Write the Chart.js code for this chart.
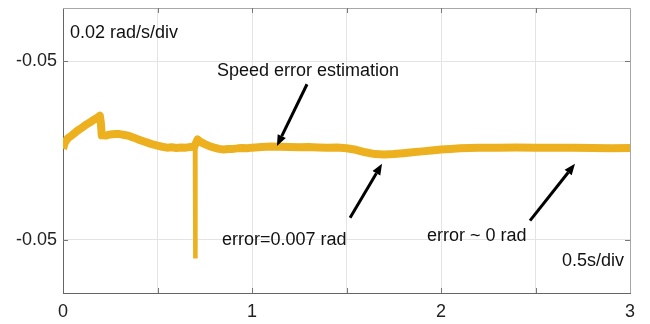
<!DOCTYPE html>
<html>
<head>
<meta charset="utf-8">
<script src="https://cdn.jsdelivr.net/npm/chart.js@4.4.1/dist/chart.umd.min.js"></script>
<style>
  html, body { margin: 0; padding: 0; background: #fff; }
  #wrap { width: 650px; height: 324px; }
</style>
</head>
<body>
<div id="wrap"><canvas id="speedChart"></canvas></div>
<script>
// ---------------------------
// Data (time in s, speed error in rad/s)
// ---------------------------
const timeSec = [
  0.000, 0.010, 0.025, 0.050, 0.075, 0.100, 0.125, 0.150, 0.175, 0.195,
  0.200, 0.205, 0.225, 0.250, 0.275, 0.300, 0.325, 0.350, 0.375, 0.400,
  0.425, 0.450, 0.475, 0.500, 0.525, 0.550, 0.575, 0.600, 0.625, 0.650,
  0.675, 0.695, 0.712, 0.725, 0.750, 0.775, 0.800, 0.825, 0.850, 0.875,
  0.900, 0.925, 0.950, 0.975, 1.000, 1.050, 1.100, 1.150, 1.200, 1.250,
  1.300, 1.350, 1.400, 1.450, 1.500, 1.550, 1.600, 1.650, 1.700, 1.750,
  1.800, 1.850, 1.900, 1.950, 2.000, 2.050, 2.100, 2.150, 2.200, 2.300,
  2.400, 2.500, 2.600, 2.700, 2.800, 2.900, 3.000
];
const speedError = [
  0.0010, 0.0045, 0.0068, 0.0088, 0.0110, 0.0128, 0.0147, 0.0163, 0.0180, 0.0195,
  0.0160, 0.0085, 0.0084, 0.0090, 0.0092, 0.0092, 0.0087, 0.0082, 0.0072, 0.0061,
  0.0052, 0.0043, 0.0034, 0.0027, 0.0021, 0.0016, 0.0018, 0.0014, 0.0017, 0.0016,
  0.0020, 0.0022, 0.0062, 0.0050, 0.0036, 0.0024, 0.0016, 0.0009, 0.0006, 0.0008,
  0.0009, 0.0012, 0.0014, 0.0013, 0.0016, 0.0019, 0.0022, 0.0021, 0.0020, 0.0018,
  0.0019, 0.0017, 0.0016, 0.0017, 0.0013, 0.0004, -0.0010, -0.0020, -0.0023, -0.0020,
  -0.0015, -0.0010, -0.0005, 0.0000, 0.0006, 0.0009, 0.0012, 0.0014, 0.0015, 0.0016,
  0.0017, 0.0016, 0.0015, 0.0015, 0.0014, 0.0013, 0.0014
];
// load step transient around t = 0.7 s
const spikeTime = [0.693, 0.697, 0.699, 0.702, 0.712];
const spikeError = [0.0022, 0.0010, -0.0595, 0.0020, 0.0062];

const xTickLabels = ["0", "1", "2", "3"];
const yTickValues = [-0.05, 0.05];
const yTickLabels = ["-0.05", "-0.05"];

// annotations, positioned in data units
const notes = [
  { text: "0.02 rad/s/div", t: 0.037, v: 0.0662, align: "left" },
  { text: "Speed error estimation", t: 0.815, v: 0.0444, align: "left" },
  { text: "error=0.007 rad", t: 0.841, v: -0.0500, align: "left" },
  { text: "error ~ 0 rad", t: 1.926, v: -0.0478, align: "left" },
  { text: "0.5s/div", t: 2.968, v: -0.0623, align: "right" }
];
const arrows = [
  { t0: 1.291, v0: 0.0372, t1: 1.132, v1: 0.0025 },
  { t0: 1.519, v0: -0.0377, t1: 1.688, v1: -0.0075 },
  { t0: 2.471, v0: -0.0394, t1: 2.709, v1: -0.0075 }
];

const TRACE = "#EDB120";
const FONT = "'Liberation Sans', Arial, sans-serif";

// ---------------------------
// Frame, inward ticks, arrows, labels
// ---------------------------
const overlay = {
  id: "overlay",
  afterDraw(chart) {
    const { ctx, chartArea: a, scales: { x, y } } = chart;
    ctx.save();

    // top / right frame
    ctx.strokeStyle = "#a8a8a8";
    ctx.lineWidth = 1;
    ctx.beginPath();
    ctx.moveTo(a.left, a.top + 0.5);
    ctx.lineTo(a.right + 0.5, a.top + 0.5);
    ctx.lineTo(a.right + 0.5, a.bottom);
    ctx.stroke();

    // inward tick marks
    ctx.strokeStyle = "#777";
    ctx.beginPath();
    for (let t = 0.5; t < 3; t += 0.5) {
      const px = Math.round(x.getPixelForValue(t)) + 0.5;
      ctx.moveTo(px, a.bottom); ctx.lineTo(px, a.bottom - 5);
      ctx.moveTo(px, a.top); ctx.lineTo(px, a.top + 5);
    }
    yTickValues.forEach(v => {
      const py = Math.round(y.getPixelForValue(v)) + 0.5;
      ctx.moveTo(a.left, py); ctx.lineTo(a.left + 5, py);
      ctx.moveTo(a.right, py); ctx.lineTo(a.right - 5, py);
    });
    ctx.stroke();

    // arrows
    ctx.strokeStyle = "#000";
    ctx.fillStyle = "#000";
    ctx.lineWidth = 3;
    arrows.forEach(ar => {
      const x0 = x.getPixelForValue(ar.t0), y0 = y.getPixelForValue(ar.v0);
      const x1 = x.getPixelForValue(ar.t1), y1 = y.getPixelForValue(ar.v1);
      const ang = Math.atan2(y1 - y0, x1 - x0);
      const head = 11, half = 4.5;
      const bx = x1 - head * Math.cos(ang), by = y1 - head * Math.sin(ang);
      ctx.beginPath();
      ctx.moveTo(x0, y0);
      ctx.lineTo(bx, by);
      ctx.stroke();
      ctx.beginPath();
      ctx.moveTo(x1, y1);
      ctx.lineTo(bx + half * Math.sin(ang), by - half * Math.cos(ang));
      ctx.lineTo(bx - half * Math.sin(ang), by + half * Math.cos(ang));
      ctx.closePath();
      ctx.fill();
    });

    // text labels
    ctx.font = "18px " + FONT;
    ctx.fillStyle = "#111";
    ctx.textBaseline = "middle";
    notes.forEach(n => {
      ctx.textAlign = n.align;
      ctx.fillText(n.text, x.getPixelForValue(n.t), y.getPixelForValue(n.v));
    });

    ctx.restore();
  }
};

new Chart(document.getElementById("speedChart"), {
  type: "line",
  data: {
    datasets: [
      {
        data: timeSec.map((t, i) => ({ x: t, y: speedError[i] })),
        borderColor: TRACE,
        borderWidth: 8,
        pointRadius: 0,
        tension: 0,
        borderJoinStyle: "round"
      },
      {
        data: spikeTime.map((t, i) => ({ x: t, y: spikeError[i] })),
        borderColor: TRACE,
        borderWidth: 4,
        pointRadius: 0,
        tension: 0
      }
    ]
  },
  options: {
    responsive: true,
    maintainAspectRatio: false,
    animation: false,
    layout: { padding: { top: 8, right: 20, left: 0, bottom: 0 } },
    plugins: { legend: { display: false }, tooltip: { enabled: false } },
    scales: {
      x: {
        type: "linear",
        min: 0,
        max: 3,
        afterBuildTicks: s => { s.ticks = [0, 0.5, 1, 1.5, 2, 2.5, 3].map(v => ({ value: v })); },
        afterFit: s => { s.height = 31; s.paddingLeft = 0; s.paddingRight = 0; },
        grid: { color: "#e4e4e4", drawTicks: false },
        border: { color: "#666", width: 1 },
        ticks: {
          color: "#222",
          padding: 8,
          maxRotation: 0,
          font: { family: FONT, size: 18 },
          callback: v => Number.isInteger(v) ? xTickLabels[v] : ""
        }
      },
      y: {
        min: -0.08,
        max: 0.08,
        afterBuildTicks: s => { s.ticks = yTickValues.map(v => ({ value: v })); },
        afterFit: s => { s.width = 63; s.paddingTop = 0; s.paddingBottom = 0; },
        grid: { color: "#e4e4e4", drawTicks: false },
        border: { color: "#666", width: 1 },
        ticks: {
          color: "#222",
          padding: 6,
          font: { family: FONT, size: 18 },
          callback: (v, i) => yTickLabels[i]
        }
      }
    }
  },
  plugins: [overlay]
});
</script>
</body>
</html>
